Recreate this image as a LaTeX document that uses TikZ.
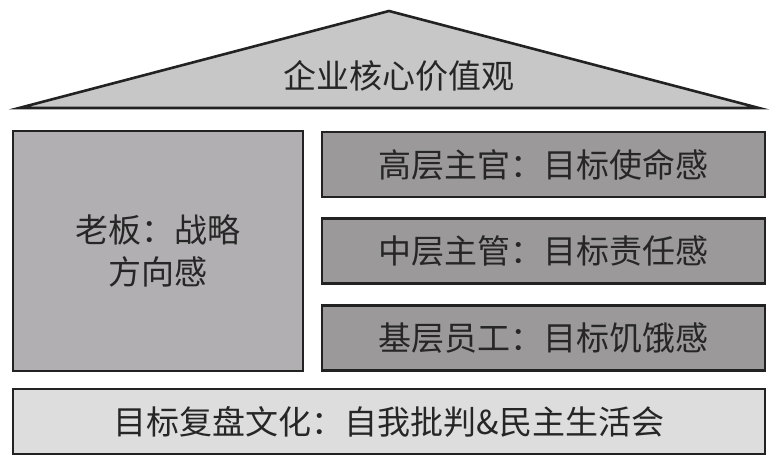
\documentclass[tikz,border=0pt]{standalone}
\usepackage{fontspec}
\setmainfont{Noto Sans CJK SC}
\usepackage{tikz}
\usetikzlibrary{positioning}
\definecolor{roofgray}{HTML}{C8C7C8}
\definecolor{bossgray}{HTML}{B1AFB1}
\definecolor{levelgray}{HTML}{9B999A}
\definecolor{basegray}{HTML}{DDDDDD}
\definecolor{edgegray}{HTML}{222222}
\tikzset{
  slab/.style={draw=edgegray, line width=2.6pt, inner sep=0pt, text=black!85,
    font=\fontsize{33}{42}\selectfont, align=center},
}
\begin{document}
\begin{tikzpicture}[x=1pt,y=-1pt]
			%%%%% START %%%%%
			\def\bh{65}
			\useasboundingbox (0,0) rectangle (778,469);
			
			% roof
			\draw[draw=edgegray, line width=2.6pt, fill=roofgray, line join=miter] (389,11) -- (759,108) -- (19,108) -- cycle;
			\node[font=\fontsize{33}{42}\selectfont, text=black!85] (roof) at (399,76) {企业核心价值观};
			
			% boss block
			\node[slab, fill=bossgray, minimum width=290, minimum height=240] (boss) at (158,251) {老板：战略\\方向感};
			
			% three levels
			\node[slab, fill=levelgray, minimum width=443, minimum height=\bh] (top) at (543.5,164.5) {高层主官：目标使命感};
			\node[slab, fill=levelgray, minimum width=443, minimum height=\bh] (mid) at (543.5,251) {中层主管：目标责任感};
			\node[slab, fill=levelgray, minimum width=443, minimum height=\bh] (low) at (543.5,338) {基层员工：目标饥饿感};
			
			% foundation
			\node[slab, fill=basegray, minimum width=752, minimum height=\bh] (base) at (389,421.5) {目标复盘文化：自我批判\&民主生活会};
			%%%%% END %%%%%
\end{tikzpicture}
\end{document}
